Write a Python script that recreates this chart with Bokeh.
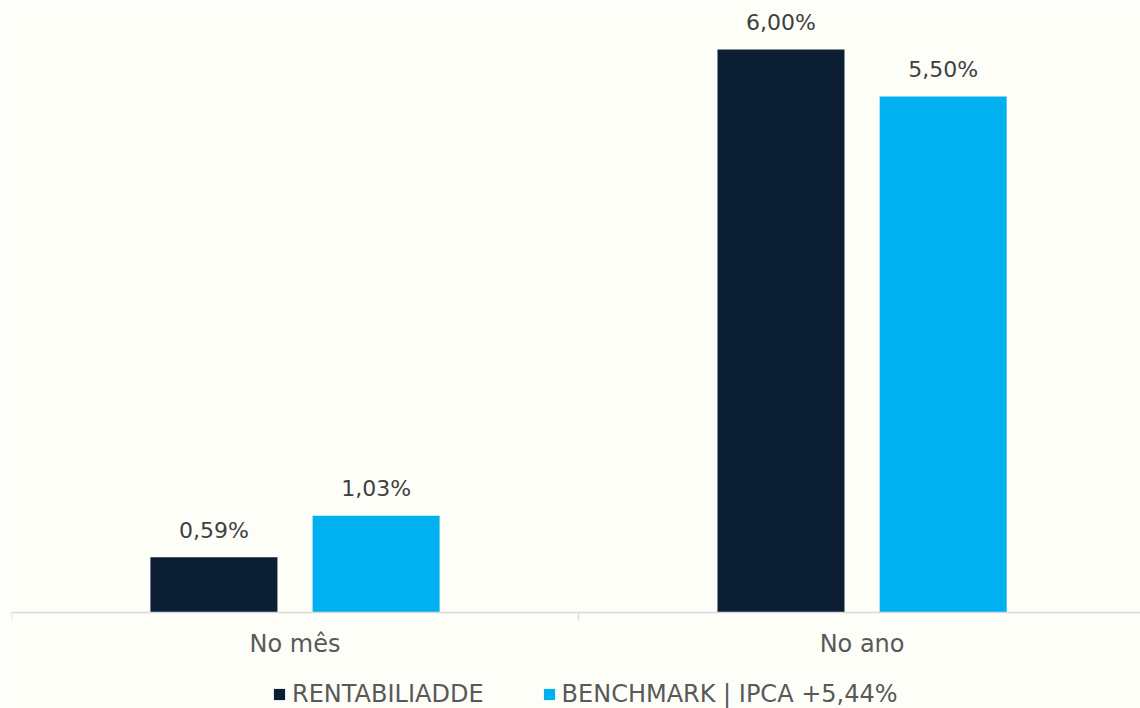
from bokeh.plotting import figure
from bokeh.models import ColumnDataSource, Range1d, Legend, LegendItem, Span
from bokeh.core.properties import value
from bokeh.embed import file_html
from bokeh.resources import INLINE

categories = ["No mês", "No ano"]
series_names = ["RENTABILIADDE", "BENCHMARK | IPCA +5,44%"]
rentabilidade = [0.59, 6.00]
benchmark = [1.03, 5.50]

BG = "#FEFEF8"
DARK = "#0C1E33"
BLUE = "#00B0F0"
AXIS = "#D9D9D9"
FONT = "DejaVu Sans"

# layout (pixels)
FRAME_W, FRAME_H = 1129, 708
BASE_PX = 612          # baseline distance from frame top
PX_PER_UNIT = 93.83    # vertical scale
TICK_PX = 8

centers = [i + 0.5 for i in range(len(categories))]
bounds = list(range(len(categories) + 1))
offset = 0.143
bw = 0.224

def fmt(v):
    return f"{v:.2f}%".replace(".", ",")

src_r = ColumnDataSource(dict(x=[c - offset for c in centers], top=rentabilidade,
                              lab=[fmt(v) for v in rentabilidade]))
src_b = ColumnDataSource(dict(x=[c + offset for c in centers], top=benchmark,
                              lab=[fmt(v) for v in benchmark]))
src_cat = ColumnDataSource(dict(x=centers, y=[0] * len(centers), lab=categories))
tick_len = TICK_PX / PX_PER_UNIT
src_ticks = ColumnDataSource(dict(x=bounds, y0=[0] * len(bounds), y1=[-tick_len] * len(bounds)))

y_top = BASE_PX / PX_PER_UNIT
y_bot = -(FRAME_H - BASE_PX) / PX_PER_UNIT

p = figure(frame_width=FRAME_W, frame_height=FRAME_H, output_backend="svg", toolbar_location=None,
           x_range=Range1d(0, 1.991), y_range=Range1d(y_bot, y_top),
           min_border_left=11, min_border_right=0, min_border_top=0, min_border_bottom=0)
p.background_fill_color = BG
p.border_fill_color = BG
p.outline_line_color = None
p.xgrid.visible = False
p.ygrid.visible = False
p.xaxis.visible = False
p.yaxis.visible = False

r1 = p.vbar(x="x", top="top", width=bw, source=src_r, fill_color=DARK, line_color=None)
r2 = p.vbar(x="x", top="top", width=bw, source=src_b, fill_color=BLUE, line_color=None)

# baseline and boundary ticks
p.add_layout(Span(location=0, dimension="width", line_color=AXIS, line_width=1.5))
p.segment(x0="x", y0="y0", x1="x", y1="y1", source=src_ticks, line_color=AXIS, line_width=1.5)

for s in (src_r, src_b):
    p.text(x="x", y="top", text="lab", source=s, text_align="center",
           text_baseline="middle", y_offset=-27, text_font=value(FONT),
           text_font_size="22px", text_color="#404040")

p.text(x="x", y="y", text="lab", source=src_cat, text_align="center",
       text_baseline="middle", y_offset=31, text_font=value(FONT),
       text_font_size="24px", text_color="#595959")

legend = Legend(items=[LegendItem(label=series_names[0], renderers=[r1]),
                       LegendItem(label=series_names[1], renderers=[r2])],
                orientation="horizontal", location=(261, 0))
legend.background_fill_alpha = 0
legend.border_line_color = None
legend.glyph_width = 14
legend.glyph_height = 14
legend.label_standoff = 6
legend.spacing = 58
legend.padding = 0
legend.margin = 0
legend.label_text_font = FONT
legend.label_text_font_size = "24px"
legend.label_text_color = "#595959"
p.add_layout(legend, "center")

open("out.html", "w").write(file_html(p, INLINE))
